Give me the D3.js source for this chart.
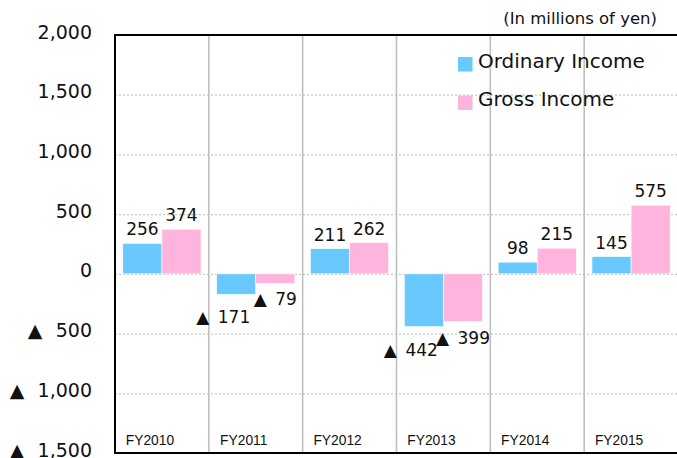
<!DOCTYPE html>
<html>
<head>
<meta charset="utf-8">
<script src="https://cdn.jsdelivr.net/npm/d3@7"></script>
<style>
  body { margin: 0; background: #fff; }
  svg { display: block; }
</style>
</head>
<body>
<div id="chart"></div>
<script>
(function() {
'use strict';

const categories = ['FY2010', 'FY2011', 'FY2012', 'FY2013', 'FY2014', 'FY2015'];
const ordinaryIncome = [256, -171, 211, -442, 98, 145];
const grossIncome = [374, -79, 262, -399, 215, 575];
const seriesNames = ['Ordinary Income', 'Gross Income'];
const yTicks = [-1500, -1000, -500, 0, 500, 1000, 1500, 2000];
const unitLabel = '(In millions of yen)';

const width = 677;
const height = 458;
const colors = ['#69c9ff', '#ffb4de'];
const left = 115, right = 678, top = 35, bottom = 453;
const mainFont = '"DejaVu Sans", Verdana, sans-serif';

// negatives are written with a black triangle, japanese style
const fmt = function(gap) {
  return function(v) {
    const s = d3.format(',')(Math.abs(v));
    return v < 0 ? '\u25B2' + gap + s : s;
  };
};

const svg = d3.select('#chart')
  .append('svg')
  .attr('width', width)
  .attr('height', height);

const x = d3.scaleBand()
  .domain(categories)
  .range([left, right])
  .padding(0);

const x1 = d3.scaleBand()
  .domain(seriesNames)
  .range([0, x.bandwidth()])
  .paddingInner(0)
  .paddingOuter(0.2);

const y = d3.scaleLinear()
  .domain([-1500, 2000])
  .range([bottom, top]);

const color = d3.scaleOrdinal()
  .domain(seriesNames)
  .range(colors);

// dotted horizontal gridlines
svg.append('g')
  .selectAll('line')
  .data(yTicks.filter(d => d > -1500 && d < 2000))
  .enter()
  .append('line')
  .attr('x1', left)
  .attr('x2', right)
  .attr('y1', d => y(d) + 0.5)
  .attr('y2', d => y(d) + 0.5)
  .attr('stroke', '#c8c8c8')
  .attr('stroke-width', 1.3)
  .attr('stroke-dasharray', '2,2');

// vertical category separators
svg.append('g')
  .selectAll('line')
  .data(categories.slice(1))
  .enter()
  .append('line')
  .attr('x1', d => x(d))
  .attr('x2', d => x(d))
  .attr('y1', top)
  .attr('y2', bottom)
  .attr('stroke', '#bfbfbf')
  .attr('stroke-width', 1.6);

// y axis labels
const yAxis = d3.axisLeft(y)
  .tickValues(yTicks)
  .tickSize(0)
  .tickPadding(23)
  .tickFormat(fmt('\u2002\u2009'));

svg.append('g')
  .attr('transform', 'translate(' + left + ',-3)')
  .call(yAxis)
  .call(g => g.select('.domain').remove())
  .selectAll('text')
  .attr('font-family', mainFont)
  .attr('font-size', '19px')
  .attr('fill', '#111');

// bars
const rows = categories.map((c, i) => ({
  category: c,
  values: [
    {series: seriesNames[0], value: ordinaryIncome[i]},
    {series: seriesNames[1], value: grossIncome[i]}
  ]
}));

const group = svg.append('g')
  .selectAll('g')
  .data(rows)
  .enter()
  .append('g')
  .attr('transform', d => 'translate(' + x(d.category) + ',0)');

group.selectAll('rect')
  .data(d => d.values)
  .enter()
  .append('rect')
  .attr('x', d => x1(d.series))
  .attr('y', d => y(Math.max(0, d.value)))
  .attr('width', x1.bandwidth())
  .attr('height', d => Math.abs(y(d.value) - y(0)))
  .attr('fill', d => color(d.series))
  .attr('stroke', '#fff')
  .attr('stroke-width', 0.6);

// value labels
const valueFmt = fmt('\u2002');
group.selectAll('text')
  .data(d => d.values)
  .enter()
  .append('text')
  .attr('x', d => {
    const cx = x1(d.series) + x1.bandwidth() / 2;
    return (d.value < 0 && d.series === seriesNames[0]) ? cx - 13 : cx;
  })
  .attr('y', d => {
    if (d.value >= 0) return y(d.value) - 8;
    return y(d.value) + (d.series === seriesNames[0] ? 29 : 22);
  })
  .attr('text-anchor', 'middle')
  .attr('font-family', mainFont)
  .attr('font-size', '17px')
  .attr('fill', '#111')
  .text(d => valueFmt(d.value));

// category labels inside the plot, near the bottom
svg.append('g')
  .selectAll('text')
  .data(categories)
  .enter()
  .append('text')
  .attr('x', d => x(d) + x.bandwidth() / 2 - 12)
  .attr('y', 445)
  .attr('text-anchor', 'middle')
  .attr('font-family', '"Liberation Sans", Arial, sans-serif')
  .attr('font-size', '13.8px')
  .attr('fill', '#111')
  .text(d => d);

// frame: left, top, bottom
svg.append('path')
  .attr('d', 'M' + right + ',' + top + 'H' + left + 'V' + bottom + 'H' + right)
  .attr('fill', 'none')
  .attr('stroke', '#000')
  .attr('stroke-width', 2);

// unit label
svg.append('text')
  .attr('x', 657)
  .attr('y', 24)
  .attr('text-anchor', 'end')
  .attr('font-family', mainFont)
  .attr('font-size', '16.5px')
  .attr('fill', '#111')
  .text(unitLabel);

// legend
const legend = svg.append('g')
  .selectAll('g')
  .data(seriesNames)
  .enter()
  .append('g')
  .attr('transform', (d, i) => 'translate(458,' + (57 + i * 38.5) + ')');

legend.append('rect')
  .attr('width', 14.5)
  .attr('height', 14.5)
  .attr('fill', color);

legend.append('text')
  .attr('x', 20)
  .attr('y', 10.5)
  .attr('font-family', mainFont)
  .attr('font-size', '20px')
  .attr('fill', '#111')
  .text(d => d);

})();
</script>
</body>
</html>
